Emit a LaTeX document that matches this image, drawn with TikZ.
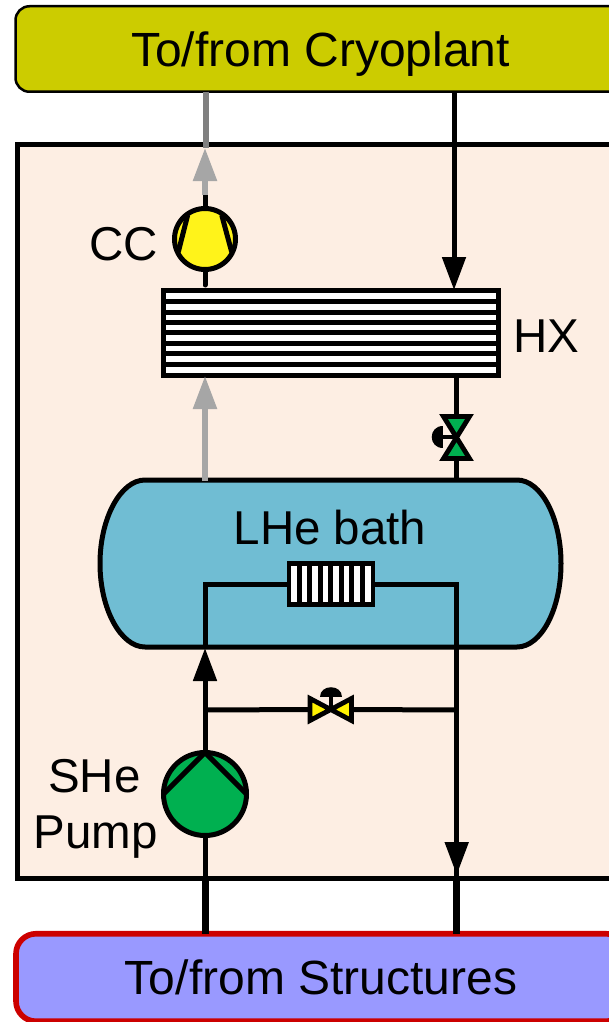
\documentclass[tikz,border=0pt]{standalone}
\usepackage{fontspec}
\setmainfont{Liberation Sans}
\usetikzlibrary{arrows.meta}
\definecolor{cryofill}{HTML}{CCCC00}
\definecolor{structfill}{HTML}{9999FF}
\definecolor{structline}{HTML}{CC0000}
\definecolor{cabin}{HTML}{FDEEE3}
\definecolor{bathfill}{HTML}{70BDD3}
\definecolor{pumpgreen}{HTML}{00B050}
\definecolor{lightgas}{HTML}{A6A6A6}
\definecolor{darkgas}{HTML}{808080}
\tikzset{
  lbl/.style={font=\fontsize{47.5}{47.5}\selectfont,inner sep=0pt,outer sep=0pt,anchor=base},
  pipe/.style={draw=black,line width=5pt},
  thickpipe/.style={draw=black,line width=6.6pt},
  gaspipe/.style={draw=lightgas,line width=5.5pt},
  bigtip/.style={-{Triangle[length=33pt,width=23pt]}},
  machine/.style={circle,draw=black,inner sep=0pt,outer sep=0pt,line width=5pt},
  hxbox/.style={rectangle,draw=black,fill=white,inner sep=0pt,outer sep=0pt,line width=4.8pt},
  slat/.style={draw=black,line width=5pt},
  valvebody/.style={draw=black,line width=4.8pt,line join=miter},
}
\begin{document}
\begin{tikzpicture}[x=1pt,y=-1pt]
\useasboundingbox (0,0) rectangle (609,1022);
\clip (0,0) rectangle (609,1022);
% cold box
\node (box) [rectangle,draw=black,fill=cabin,line width=5pt,inner sep=0pt,outer sep=0pt,
  minimum width=617pt,minimum height=734pt] at (325.5,511) {};
% end boxes
\node (cryo) [rectangle,rounded corners=14pt,draw=black,fill=cryofill,line width=2.5pt,inner sep=0pt,outer sep=0pt,
  minimum width=610pt,minimum height=85.5pt,text height=36pt,text depth=0pt,font=\fontsize{48}{48}\selectfont]
  at (320.5,49) {To/from Cryoplant};
\node (structs) [rectangle,rounded corners=20pt,draw=structline,fill=structfill,line width=5.6pt,inner sep=0pt,outer sep=0pt,
  minimum width=610pt,minimum height=87.5pt,text height=33pt,text depth=0pt,font=\fontsize{48}{48}\selectfont]
  at (321,977.5) {To/from Structures};
% bath
\draw[draw=black,fill=bathfill,line width=5pt]
  (145,480) -- (517,480) .. controls (541,480) and (561,517.5) .. (561,563.5)
  .. controls (561,609.5) and (541,647) .. (517,647) -- (145,647)
  .. controls (121,647) and (100,609.5) .. (100,563.5)
  .. controls (100,517.5) and (121,480) .. (145,480) -- cycle;
\coordinate (bathtopL) at (205,481);
\coordinate (bathtopR) at (456.7,480);
\coordinate (bathbotL) at (205,648);
\node (bathlbl) [lbl] at (330,544) {LHe bath};
% heat exchanger
\node (hx) [hxbox,minimum width=335pt,minimum height=85pt] at (331,332.7) {};
\foreach \yy in {301.6,312,322.5,332.9,343.3,353.8,364.2}
  \draw[slat] (hx.west |- 0,\yy) -- (hx.east |- 0,\yy);
\node (hxlbl) [lbl] at (546.5,352) {HX};
\coordinate (hxinL) at (205,376);
\coordinate (hxinR) at (454,290);
\coordinate (hxoutR) at (456.7,375);
% coil in bath
\node (coil) [hxbox,minimum width=84pt,minimum height=41pt] at (331,584) {};
\foreach \xx in {299.2,309.7,320.2,330.7,341.2,351.7,362.2}
  \draw[slat] (\xx,0 |- coil.north) -- (\xx,0 |- coil.south);
% compressor
\node (cc) [machine,fill=yellow!90!white,minimum size=61pt] at (205,239) {};
\draw[black,line width=5pt] (187.7,215) -- (178.3,252);
\draw[black,line width=5pt] (221.7,215) -- (231.7,252);
\node (cclbl) [lbl] at (123.5,260) {CC};
% pump
\node (pump) [machine,fill=pumpgreen,minimum size=83pt] at (205,794) {};
\draw[black,line width=5pt,line cap=round,line join=miter] (pump.west) -- (pump.north) -- (pump.east);
\node (shelbl) [lbl] at (94.5,792) {SHe};
\node (pumplbl) [lbl] at (95.5,848) {Pump};
% valves
\coordinate (vv) at (456.7,437);
\draw[black,line width=4pt] (vv) -- (443,437);
\fill[black] (443,426) .. controls (428.3,426) and (428.3,448) .. (443,448) -- cycle;
\draw[valvebody,fill=pumpgreen] (443.5,416.5) -- (469.5,416.5) -- (443.5,458.5) -- (469.5,458.5) -- cycle;
\coordinate (vh) at (330.7,709.5);
\draw[valvebody,fill=yellow] (310,698.5) -- (351.5,720.5) -- (351.5,698.5) -- (310,720.5) -- cycle;
\draw[black,line width=3.6pt] (vh) -- (330.7,695);
\fill[black] (319.7,696.5) .. controls (319.7,683.5) and (341.7,683.5) .. (341.7,696.5) -- cycle;
% gas lines
\draw[gaspipe,bigtip] (bathtopL) -- (hxinL);
\draw[gaspipe,bigtip] (cc.north |- 0,195) -- (cc.north |- 0,148);
\draw[draw=darkgas,line width=6pt] (206,0 |- cryo.south) -- (206,148);
\draw[pipe] (cc.north) -- (cc.north |- 0,195);
\draw[pipe,line cap=round] (cc.south) -- (cc.south |- 0,285);
% cold helium feed
\draw[pipe,bigtip] (hxinR |- cryo.south) -- (hxinR);
\draw[pipe] (hxoutR) -- (vv |- 0,416.5);
\draw[pipe] (vv |- 0,458.5) -- (bathtopR);
% SHe loop
\draw[pipe,bigtip] (pump.north) -- (bathbotL);
\draw[pipe,line join=miter] (bathbotL) -- (205,584) -- (coil.west);
\draw[pipe,line join=miter] (coil.east) -- (456.7,584) -- (456.7,878);
\draw[pipe,bigtip] (456.7,840) -- (456.7,875);
\draw[pipe] (205,710) -- (310,0 |- vh);
\draw[pipe] (351.5,0 |- vh) -- (456.7,710);
\draw[pipe] (pump.south) -- (205,878);
\draw[thickpipe] (205.5,878) -- (205.5,0 |- structs.north);
\draw[thickpipe] (456.5,878) -- (456.5,0 |- structs.north);
\end{tikzpicture}
\end{document}
